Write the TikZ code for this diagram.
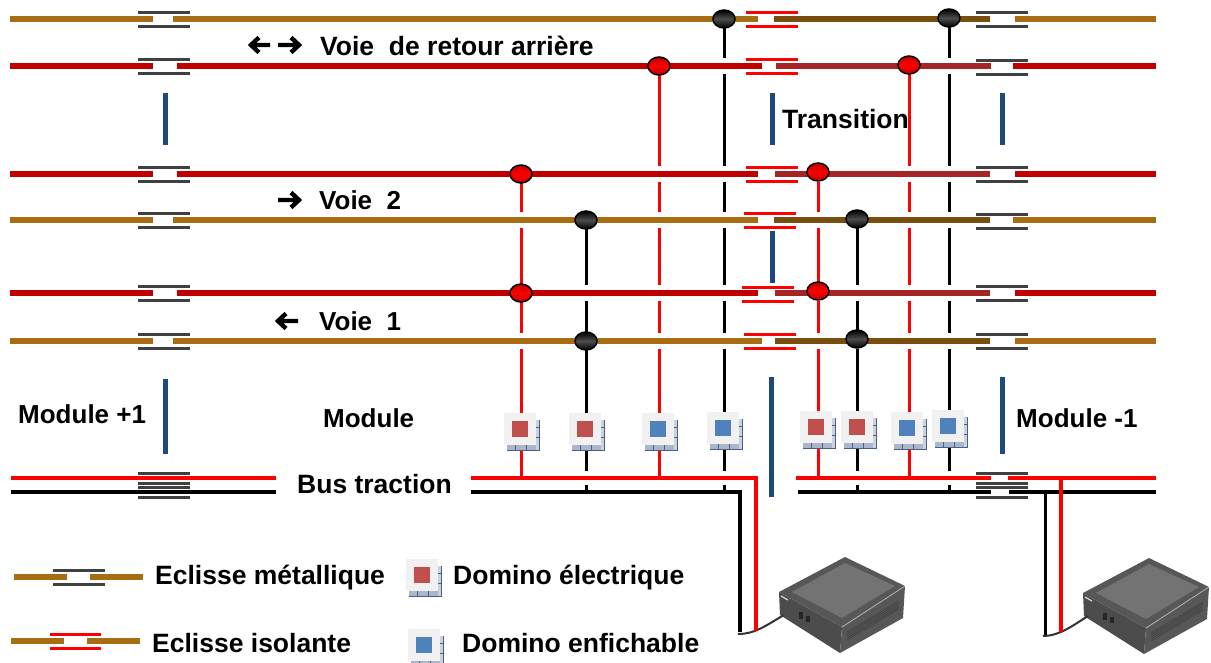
\documentclass[tikz,border=0pt]{standalone}
\usepackage{fontspec}
\setmainfont{Liberation Sans}
\usetikzlibrary{shapes.geometric}
\definecolor{railbrown}{HTML}{A66D12}
\definecolor{darkbrown}{HTML}{7A4E0E}
\definecolor{railred}{HTML}{C00000}
\definecolor{darkred}{HTML}{A52424}
\definecolor{barblue}{HTML}{1F497D}
\definecolor{bargray}{HTML}{404040}
\definecolor{tilered}{HTML}{C0504D}
\definecolor{tileblue}{HTML}{4F81BD}
\definecolor{tilegray}{HTML}{F1F1F1}
\definecolor{shadowblue}{HTML}{A9B6CC}
\definecolor{shadowline}{HTML}{4A5F85}
\pgfdeclarelayer{bg}
\pgfsetlayers{bg,main}
\tikzset{
  railline/.style={line width=5.4pt},
  fishbar/.style={line width=3pt},
  dropred/.style={red,line width=3pt},
  dropblack/.style={black,line width=3pt},
  busred/.style={red,line width=4pt,line join=miter},
  busblack/.style={black,line width=4pt,line join=miter},
  sepbar/.style={barblue,line width=5pt},
  lab/.style={font=\fontsize{26.5}{28}\selectfont\bfseries,anchor=base west,inner sep=0pt,text=black},
  labm/.style={font=\fontsize{26}{28}\selectfont\bfseries,anchor=base west,inner sep=0pt,text=black},
  junred/.style={ellipse,draw=black,line width=1.5pt,minimum width=22pt,minimum height=18pt,inner sep=0pt,
    top color=red!75!black,bottom color=red!75!black,middle color=red},
  junblack/.style={ellipse,draw=black,line width=1.5pt,minimum width=22pt,minimum height=18pt,inner sep=0pt,
    top color=black,bottom color=black,middle color=black!70},
  tilebox/.style={fill=tilegray,minimum size=32pt,inner sep=0pt},
  arrowmark/.style={black,line width=4.4pt,line join=miter,miter limit=10},
  cable/.style={line width=2pt,draw=black!80}
}
% rail row: y, colour, dark colour, six gap limits
\newcommand\railrow[9]{%
  \draw[railline,#2] (10,#1) -- (#4,#1) (#5,#1) -- (#6,#1) (#9,#1) -- (1156,#1);
  \draw[railline,#3] (#7,#1) -- (#8,#1);
}
\newcommand\fishplate[4]{%
  \draw[fishbar,#4] (#1,#3-7) -- (#2,#3-7) (#1,#3+7) -- (#2,#3+7);
}
\newcommand\dominotile[4]{%
  \fill[shadowblue] (#2-13,#3+15) rectangle (#2+19,#3+21);
  \fill[shadowblue!60] (#2+16,#3-9) rectangle (#2+19,#3+21);
  \draw[shadowline,line width=.8pt] (#2+19,#3-9) -- (#2+19,#3+21) -- (#2-13,#3+21);
  \draw[shadowline,line width=.6pt] (#2-5,#3+15) -- (#2-5,#3+21) (#2+6,#3+15) -- (#2+6,#3+21) (#2+16,#3+8) -- (#2+19,#3+8) (#2+16,#3-2) -- (#2+19,#3-2);
  \node[tilebox] (#1) at (#2,#3) {};
  \fill[#4] (#2-8,#3-8) rectangle (#2+8,#3+8);
}
\newcommand\powerbox[3]{%
  \begin{scope}[shift={(#1,#2)}]
    \fill[black!70] (779,592) -- (780,615) -- (840,653) -- (842,627) -- cycle;
    \fill[black!66] (842,627) -- (840,653) -- (903,618) -- (905,586) -- cycle;
    \fill[black!66] (845,557) -- (905,586) -- (842,627) -- (779,592) -- cycle;
    \fill[black!55] (845,563) -- (895,586) -- (842,618) -- (792,592) -- cycle;
    \draw[black!30,line width=.8pt] (842,627) -- (905,586);
    \foreach \k in {0,1,2,3,4}
      \draw[black!74,line width=.7pt] (847,640-\k*2) -- (899,609-\k*2);
    \fill[black!85] (799,612) rectangle (803,619);
    \fill[black!85] (806,616) rectangle (810,622);
    \draw[white!85!black,line width=1.2pt] (781,596) -- (788,600);
    \coordinate (#3) at (784,615);
  \end{scope}
}
\begin{document}
\begin{tikzpicture}[x=1pt,y=-1pt]
\useasboundingbox (0,0) rectangle (1211,662);

% junctions
\node[junblack] (ja) at (724,19) {};
\node[junblack] (jb) at (949,18) {};
\node[junred]   (jc) at (659,66) {};
\node[junred]   (jd) at (909,65) {};
\node[junred]   (je) at (521,174) {};
\node[junred]   (jf) at (818,172) {};
\node[junblack] (jg) at (586,220) {};
\node[junblack] (jh) at (857,219) {};
\node[junred]   (ji) at (521,293) {};
\node[junred]   (jj) at (818,291) {};
\node[junblack] (jk) at (586,341) {};
\node[junblack] (jl) at (857,339) {};

\coordinate (busr) at (0,477.5);
\coordinate (busb) at (0,492);

\begin{pgfonlayer}{bg}
  \fill[white] (0,0) rectangle (1211,662);
  % feeders
  \draw[dropred] (jc.center) -- (jc.center |- busr);
  \draw[dropred] (jd.center) -- (jd.center |- busr);
  \draw[dropred] (je.center) -- (je.center |- busr);
  \draw[dropred] (jf.center) -- (jf.center |- busr);
  \draw[dropblack] (ja.center) -- (ja.center |- busb);
  \draw[dropblack] (jb.center) -- (jb.center |- busb);
  \draw[dropblack] (jg.center) -- (jg.center |- busb);
  \draw[dropblack] (jh.center) -- (jh.center |- busb);
  % breaks of the feeders where they pass the rails
  \foreach \px in {521,586,659,724,818,857,909,949}
    \foreach \py in {19,66,174,220,293,341}
      \draw[white,line width=6pt] (\px,\py-8) -- (\px,\py+8);
  % crossings of black feeders under the red bus
  \foreach \px in {586,724,857,949}
    \draw[white,line width=6pt] (\px,471) -- (\px,485);
  % rails
  \railrow{19}{railbrown}{darkbrown}{153}{173}{758}{774}{990}{1015}
  \railrow{66}{railred}{darkred}{153}{177}{762}{776}{991}{1013}
  \railrow{174}{railred}{darkred}{153}{177}{758}{775}{990}{1015}
  \railrow{220}{railbrown}{darkbrown}{153}{173}{758}{774}{990}{1013}
  \railrow{293}{railred}{darkred}{153}{177}{758}{775}{990}{1015}
  \railrow{341}{railbrown}{darkbrown}{153}{173}{762}{775}{990}{1015}
\end{pgfonlayer}

% fishplates: left
\fishplate{138}{190}{19}{bargray}
\fishplate{138}{190}{66}{bargray}
\fishplate{138}{190}{174}{bargray}
\fishplate{138}{190}{220}{bargray}
\fishplate{138}{190}{293}{bargray}
\fishplate{138}{190}{341}{bargray}
% fishplates: transition
\fishplate{746}{798}{19.5}{red}
\fishplate{746}{798}{66.5}{red}
\fishplate{746}{798}{174.5}{red}
\fishplate{744}{796}{220.5}{red}
\fishplate{742}{794}{294}{red}
\fishplate{744}{796}{341}{red}
% fishplates: right
\fishplate{976}{1028}{19.5}{bargray}
\fishplate{976}{1028}{67}{bargray}
\fishplate{976}{1028}{174}{bargray}
\fishplate{976}{1028}{221}{bargray}
\fishplate{976}{1028}{293}{bargray}
\fishplate{976}{1028}{341}{bargray}
% bus fishplates
\fishplate{138}{190}{480}{bargray}
\fishplate{138}{190}{490}{bargray}
\fishplate{976}{1028}{480}{bargray}
\fishplate{976}{1028}{490}{bargray}

% module separators
\draw[sepbar] (165,93) -- (165,145);
\draw[sepbar] (772,93) -- (772,145);
\draw[sepbar] (1002,93) -- (1002,145);
\draw[sepbar] (772,231) -- (772,283);
\draw[sepbar] (165,379) -- (165,454);
\draw[sepbar] (771,377) -- (771,497);
\draw[sepbar] (1002,377) -- (1002,454);

% power boxes
\powerbox{0}{0}{pwa}
\powerbox{304}{1}{pwb}

% dominoes
\dominotile{da}{520}{429}{tilered}
\dominotile{db}{585}{429}{tilered}
\dominotile{dc}{658}{429}{tileblue}
\dominotile{dd}{723}{428}{tileblue}
\dominotile{de}{816}{427}{tilered}
\dominotile{df}{857}{427}{tilered}
\dominotile{dg}{907}{428}{tileblue}
\dominotile{dh}{948}{426}{tileblue}
\dominotile{dl}{422}{575}{tilered}
\dominotile{dm}{424}{645}{tileblue}

% bus
\coordinate (lfa) at (740,632);
\coordinate (lfb) at (756,631);
\coordinate (rfa) at (1045,635);
\coordinate (rfb) at (1061,632);
\draw[cable] (738,634) .. controls (755,634) and (765,626) .. (pwa);
\draw[cable] (1043,636) .. controls (1060,636) and (1075,624) .. (pwb);
\draw[busred] (11,477.5) -- (276,477.5);
\draw[busblack] (11,492) -- (276,492);
\draw[busblack] (471,492) -| (lfa);
\draw[busred] (471,477.5) -| (lfb);
\draw[busblack] (798,492) -- (991,492) (1009,492) -- (1156,492);
\draw[busred] (796,478) -- (991,478) (1008,478) -- (1156,478);
\draw[line width=3pt,black] (rfa |- busb) -- (rfa);
\draw[line width=4pt,red] (rfb |- busr) -- (rfb);

% arrows
\draw[arrowmark] (251,45) -- (270,45) (259,37.5) -- (251,45) -- (259,52.5);
\draw[arrowmark] (278,45) -- (299,45) (291,37.5) -- (299,45) -- (291,52.5);
\draw[arrowmark] (278,200) -- (299,200) (291,192.5) -- (299,200) -- (291,207.5);
\draw[arrowmark] (278,321) -- (298,321) (286,313.5) -- (278,321) -- (286,328.5);

% legend
\draw[railline,railbrown] (14,577) -- (67,577) (90,577) -- (143,577);
\fishplate{53}{105}{577.5}{bargray}
\draw[railline,railbrown] (11,641) -- (64,641) (87,641) -- (140,641);
\fishplate{50}{101}{641}{red}

% labels
\node[lab] (t1) at (320,55.5) {Voie\ \ de retour arrière};
\node[lab] (t2) at (782,128) {Transition};
\node[labm] (t3) at (319,209) {Voie\ \ 2};
\node[labm] (t4) at (319,330) {Voie\ \ 1};
\node[labm] (t5) at (18,423) {Module +1};
\node[labm] (t6) at (323,427) {Module};
\node[labm] (t7) at (1016,427) {Module -1};
\node[lab] (t8) at (297,493) {Bus traction};
\node[lab] (t9) at (155,584) {Eclisse métallique};
\node[lab] (t10) at (453,584) {Domino électrique};
\node[lab] (t11) at (152,652) {Eclisse isolante};
\node[lab] (t12) at (462,652) {Domino enfichable};
\end{tikzpicture}
\end{document}
